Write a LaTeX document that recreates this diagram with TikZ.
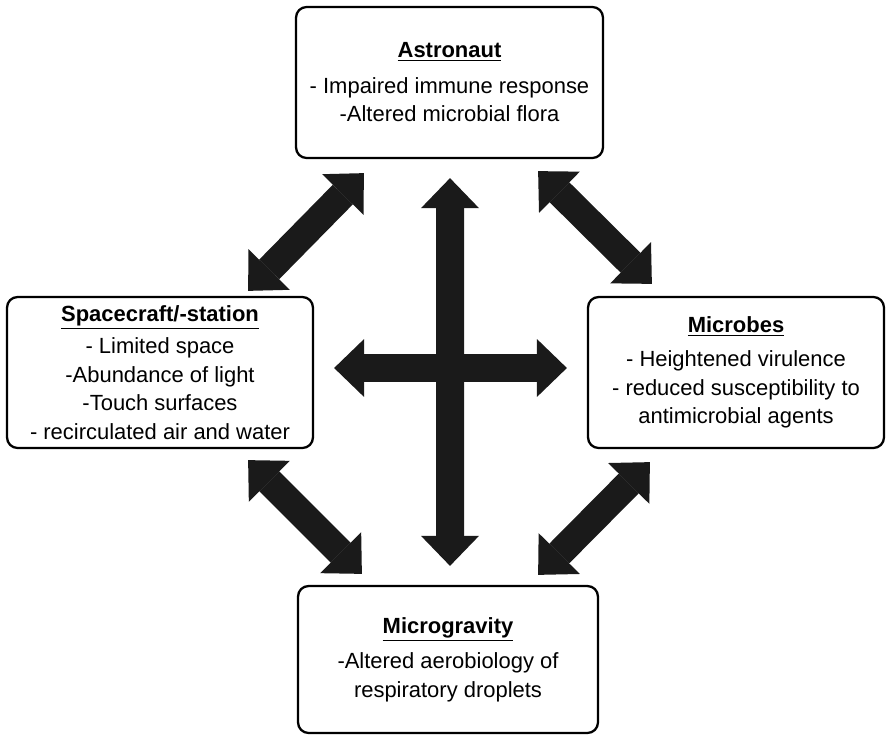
\documentclass[tikz,border=0pt]{standalone}
\usepackage{fontspec}
\setmainfont{Liberation Sans}
\usetikzlibrary{positioning}
\usetikzlibrary{arrows.meta}
\definecolor{arrowgray}{HTML}{1A1A1A}

\begin{document}
\begin{tikzpicture}[x=0.02cm,y=-0.02cm,
		box/.style={draw, line width=1.3pt, rounded corners=6pt, align=center, inner sep=0pt,
			font=\fontsize{12.5}{16.2}\selectfont},
		bigarrow/.style={arrowgray, line width=0.56cm,
			{Triangle[length=0.6cm,width=1.16cm,line width=0pt]}-{Triangle[length=0.6cm,width=1.16cm,line width=0pt]}}]
		\useasboundingbox (0,0) rectangle (889,737);

		% the four boxes
		\node[box, minimum width=6.14cm, minimum height=3.02cm] (astro) at (449.5,82.5)
			{\underline{\textbf{Astronaut}}\\[4pt] - Impaired immune response\\ -Altered microbial flora};
		\node[box, minimum width=6.12cm, minimum height=3.02cm] (craft) at (160,372.5)
			{\underline{\textbf{Spacecraft/-station}}\\[2pt] - Limited space\\ -Abundance of light\\ -Touch surfaces\\ - recirculated air and water};
		\node[box, minimum width=5.92cm, minimum height=3.02cm] (microbes) at (736,372.5)
			{\underline{\textbf{Microbes}}\\[3pt] - Heightened virulence\\ - reduced susceptibility to\\ antimicrobial agents};
		\node[box, minimum width=6.0cm, minimum height=2.94cm] (grav) at (448,659.5)
			{\underline{\textbf{Microgravity}}\\[4pt] -Altered aerobiology of\\ respiratory droplets};

		% arrows between the boxes
		\draw[bigarrow] ([shift={(-66,-5)}]craft.north east) -- ([shift={(69,14)}]astro.south west);
		\draw[bigarrow] ([shift={(-66,12)}]astro.south east) -- ([shift={(65,-12)}]microbes.north west);
		\draw[bigarrow] ([shift={(-66,11)}]craft.south east) -- ([shift={(65,-11)}]grav.north west);
		\draw[bigarrow] ([shift={(63,13)}]microbes.south west) -- ([shift={(-61,-10)}]grav.north east);

		% the cross in the middle
		\draw[bigarrow] ([shift={(0.5,19)}]astro.south) -- ([shift={(2,-19)}]grav.north);
		\draw[bigarrow] ([shift={(20,-4.5)}]craft.east) -- ([shift={(-20,-4.5)}]microbes.west);
	\end{tikzpicture}
\end{document}
